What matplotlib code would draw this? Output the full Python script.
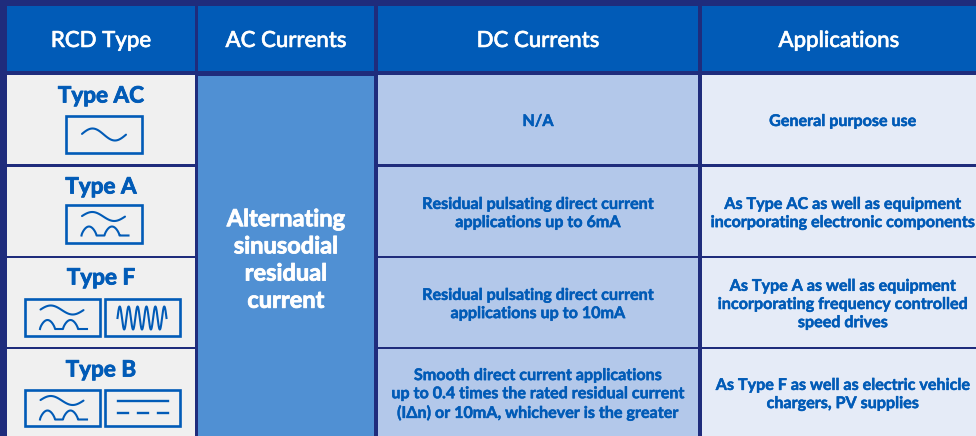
import numpy as np
import matplotlib
matplotlib.use("Agg")
import matplotlib.pyplot as plt
import matplotlib.patheffects as pe
from matplotlib.patches import Rectangle

plt.rcParams['font.family'] = ['Lato', 'DejaVu Sans']

headers = ["RCD Type", "AC Currents", "DC Currents", "Applications"]
rcd_types = ["Type AC", "Type A", "Type F", "Type B"]
ac_text = "Alternating\nsinusodial\nresidual\ncurrent"
dc_text = ["N/A",
           "Residual pulsating direct current\napplications up to 6mA",
           "Residual pulsating direct current\napplications up to 10mA",
           "Smooth direct current applications\nup to 0.4 times the rated residual current\n(IΔn) or 10mA, whichever is the greater"]
app_text = ["General purpose use",
            "As Type AC as well as equipment\nincorporating electronic components",
            "As Type A as well as equipment\nincorporating frequency controlled\nspeed drives",
            "As Type F as well as electric vehicle\nchargers, PV supplies"]
icons = [["sine"], ["mixed"], ["mixed", "hf"], ["mixed", "dc"]]

NAVY, BLUE, MID, LIGHT, PALE, GREY = "#1f2c7c", "#015bb7", "#5090d3", "#b3c8ea", "#e5ebf7", "#f0f0f0"
col_edges = [(7, 195), (198, 374), (378, 698), (702, 976)]
row_edges = [(75, 164), (167, 256), (258, 347), (349, 436)]
title_y = [96, 187, 278, 370]
icon_y = [(116, 153), (205, 243), (299, 336), (390, 426)]
single_x = [(66, 142)]
double_x = [(25, 100), (105, 180)]

fig = plt.figure(figsize=(9.76, 4.36), dpi=100, facecolor=NAVY)
ax = fig.add_axes([0, 0, 1, 1])
ax.set_xlim(0, 976)
ax.set_ylim(436, 0)
ax.axis("off")


def rect(x0, x1, y0, y1, fc):
    ax.add_patch(Rectangle((x0, y0), x1 - x0, y1 - y0, fc=fc, ec="none"))


def sine(x0, x1, yc, amp):
    t = np.linspace(0, 1, 80)
    ax.plot(x0 + (x1 - x0) * t, yc - amp * np.sin(2 * np.pi * t * 0.98 + 0.1),
            color=BLUE, lw=1.5, solid_capstyle="round")


def humps(x0, yb, amp):
    x = np.linspace(0, 47, 300)
    p = (x % 23) / 15
    y = np.where((p < 1) & (x < 38), np.sin(np.pi * np.minimum(p, 1)), 0) ** 0.7
    ax.plot(x0 + x, yb - amp * y, color=BLUE, lw=1.5)


def draw_icon(kind, x0, x1, y0, y1):
    ax.add_patch(Rectangle((x0, y0), x1 - x0, y1 - y0, fc="none", ec=BLUE, lw=1.9))
    xc, yc = (x0 + x1) / 2, (y0 + y1) / 2
    if kind == "sine":
        sine(xc - 22, xc + 22, yc, 6)
    elif kind == "mixed":
        sine(xc - 22, xc + 21, yc - 7.5, 4.5)
        humps(xc - 22.5, yc + 11.5, 9)
    elif kind == "hf":
        t = np.linspace(0, 1, 300)
        ax.plot(xc - 25 + 49 * t, yc + 0.5 - 11.5 * np.sin(2 * np.pi * 5.5 * t),
                color=BLUE, lw=1.5)
    elif kind == "dc":
        ax.plot([xc - 25, xc + 25], [yc - 7, yc - 7], color=BLUE, lw=1.7)
        for i in range(3):
            ax.plot([xc - 25 + i * 20, xc - 15 + i * 20], [yc + 5, yc + 5], color=BLUE, lw=1.7)


bold = [pe.withStroke(linewidth=0.35, foreground=BLUE)]
tbold = [pe.withStroke(linewidth=0.6, foreground=BLUE)]
hbold = [pe.withStroke(linewidth=0.4, foreground="white")]
abold = [pe.withStroke(linewidth=0.6, foreground="white")]

for (x0, x1), h in zip(col_edges, headers):
    rect(x0, x1, 6, 71, BLUE)
    ax.text((x0 + x1) / 2, 41, h, color="white", fontsize=16, fontweight="medium",
            ha="center", va="center", path_effects=hbold)

rect(*col_edges[1], 76, 436, MID)
ax.text(286, 259.5, ac_text, color="white", fontsize=17, fontweight="bold", ha="center",
        va="center", linespacing=1.22, path_effects=abold)

for i, (y0, y1) in enumerate(row_edges):
    rect(*col_edges[0], y0, y1, GREY)
    rect(*col_edges[2], y0, y1, LIGHT)
    rect(*col_edges[3], y0, y1, PALE)
    ym = (y0 + y1) / 2
    ax.text(101, title_y[i], rcd_types[i], color=BLUE, fontsize=16.2, fontweight="bold",
            ha="center", va="center", path_effects=tbold)
    xs = single_x if len(icons[i]) == 1 else double_x
    for kind, (xa, xb) in zip(icons[i], xs):
        draw_icon(kind, xa, xb, *icon_y[i])
    ax.text(538, ym + 2.5, dc_text[i], color=BLUE, fontsize=11.6, fontweight="bold", ha="center",
            va="center", linespacing=1.38, path_effects=bold)
    ax.text(843, ym + 2.5, app_text[i], color=BLUE, fontsize=11.6, fontweight="bold", ha="center",
            va="center", linespacing=1.38, path_effects=bold)

fig.savefig("out.png", dpi=100, facecolor=NAVY)
